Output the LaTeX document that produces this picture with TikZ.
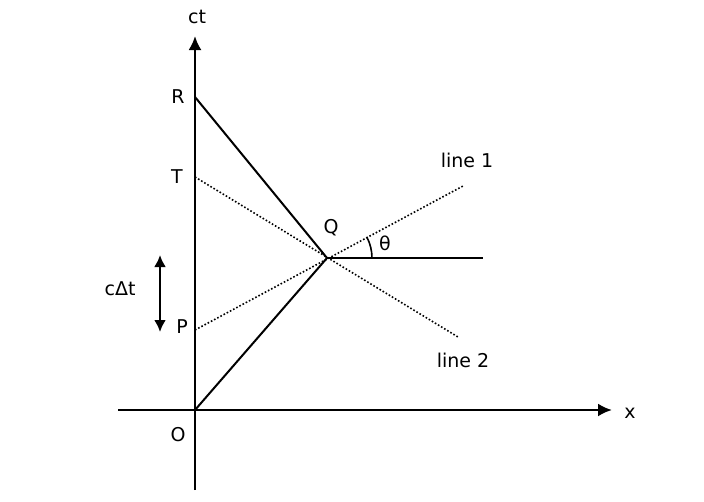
\documentclass[tikz,border=0pt]{standalone}
\usepackage{fontspec}
\setmainfont{DejaVu Sans}
\begin{document}
\begin{tikzpicture}[x=1pt,y=-1pt,
  lbl/.style={font=\fontsize{19}{22}\selectfont,inner sep=1pt},
  ax/.style={line width=2.4pt,-{Latex[length=14pt,width=13pt]}},
  wl/.style={line width=2pt},
  dl/.style={line width=1.6pt,dotted}]
\usetikzlibrary{arrows.meta}
\useasboundingbox (0,0) rectangle (704,501);
\coordinate (O) at (195,410);
\coordinate (R) at (195,97);
\coordinate (T) at (195,177);
\coordinate (P) at (195,330);
\coordinate (Q) at (327,258);
\coordinate (H) at (483,258);
\coordinate (L1) at (463,186);
\coordinate (L2) at (458,337);
\coordinate (yb) at (195,490);
\coordinate (yt) at (195,36);
\coordinate (xl) at (118,410);
\coordinate (xr) at (612,410);
\draw[ax] (yb) -- (yt);
\draw[ax] (xl) -- (xr);
\draw[wl] (R) -- (Q) -- (O);
\draw[wl] (Q) -- (H);
\draw[dl] (T) -- (L2);
\draw[dl] (P) -- (L1);
\draw[line width=1.6pt] ([shift={(0:45)}]Q) arc[start angle=0,end angle=-28,radius=45];
\coordinate (a1) at (160,255);
\coordinate (a2) at (160,332);
\draw[line width=2.4pt,{Latex[length=12pt,width=12pt]}-{Latex[length=12pt,width=12pt]}] (a1) -- (a2);
\node[lbl] (nct) at (197,17) {ct};
\node[lbl] (nx) at (630,413) {x};
\node[lbl] (nR) at (178,97) {R};
\node[lbl] (nT) at (177,177) {T};
\node[lbl] (nP) at (182,327) {P};
\node[lbl] (nO) at (178,435) {O};
\node[lbl] (nQ) at (331,228) {Q};
\node[lbl] (nth) at (385,243) {θ};
\node[lbl] (nl1) at (467,160) {line 1};
\node[lbl] (nl2) at (463,360) {line 2};
\node[lbl] (ndt) at (120,289) {cΔt};
\end{tikzpicture}
\end{document}
